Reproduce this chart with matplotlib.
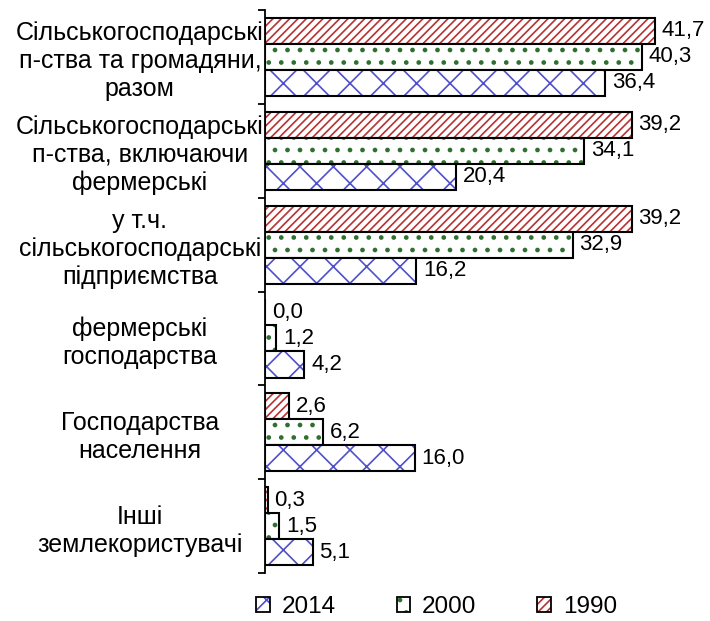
import numpy as np
import matplotlib
matplotlib.use("Agg")
from matplotlib import pyplot as plt
from matplotlib.patches import Patch
import matplotlib.hatch as mh
import warnings

warnings.filterwarnings('ignore')

plt.rcParams['font.family'] = ['Liberation Sans', 'DejaVu Sans']
plt.rcParams['hatch.linewidth'] = 1.2


# sparse dot hatch ('q'), 8 rows per inch instead of 6/12
class SparseDots(mh.SmallFilledCircles):
    size = 0.12

    def __init__(self, hatch, density):
        self.num_rows = int(hatch.count('q') * density * 4 / 3)
        mh.Circles.__init__(self, hatch, density)


mh._hatch_types.append(SparseDots)

categories = ['Сільськогосподарські\nп-ства та громадяни,\nразом',
              'Сільськогосподарські\nп-ства, включаючи\nфермерські',
              'у т.ч.\nсільськогосподарські\nпідприємства',
              'фермерські\nгосподарства',
              'Господарства\nнаселення',
              'Інші\nземлекористувачі']
years = ['1990', '2000', '2014']
v1990 = [41.7, 39.2, 39.2, 0.0, 2.6, 0.3]
v2000 = [40.3, 34.1, 32.9, 1.2, 6.2, 1.5]
v2014 = [36.4, 20.4, 16.2, 4.2, 16.0, 5.1]

series = [v1990, v2000, v2014]
hcolors = ['#b83232', '#2f6f2f', '#5050cc']
hatches = ['////', 'q', 'x']

fig = plt.figure(figsize=(7.1, 6.21), dpi=100)
ax = fig.add_axes([0.373, 0.077, 0.593, 0.907])

n = len(categories)
ypos = np.arange(n)
bh = 0.277
handles = []
for i, (vals, hc, h) in enumerate(zip(series, hcolors, hatches)):
    yy = ypos - bh + i * bh
    ax.barh(yy, vals, height=bh, color='white', edgecolor=hc, hatch=h, linewidth=0)
    ax.barh(yy, vals, height=bh, color='none', edgecolor='black', linewidth=1.5)
    for y, v in zip(yy, vals):
        ax.annotate(('%.1f' % v).replace('.', ','), (v, y), xytext=(5, 0),
                    textcoords='offset points', va='center', ha='left', fontsize=16)
    handles.append((Patch(facecolor='white', edgecolor=hc, hatch=h, linewidth=0),
                    Patch(facecolor='none', edgecolor='black', linewidth=1.3)))

ax.set_xlim(0, 45)
ax.set_ylim(n - 0.5, -0.5)
ax.set_yticks(ypos)
ax.set_yticklabels(categories, ha='center', fontsize=18, linespacing=1.2)
ax.tick_params(axis='y', which='major', length=0, pad=90)
ax.set_yticks(np.arange(-0.5, n), minor=True)
ax.tick_params(axis='y', which='minor', length=5, width=1.3, direction='out')
ax.set_xticks([])
for s in ['top', 'right', 'bottom']:
    ax.spines[s].set_visible(False)
ax.spines['left'].set_linewidth(1.3)

fig.legend(handles[::-1], years[::-1], loc='center', bbox_to_anchor=(0.615, 0.0225),
           ncol=3, frameon=False, fontsize=17.5, handlelength=0.55, handleheight=0.55,
           handletextpad=0.5, columnspacing=2.5, borderpad=0)

fig.savefig('out.png', dpi=100)
